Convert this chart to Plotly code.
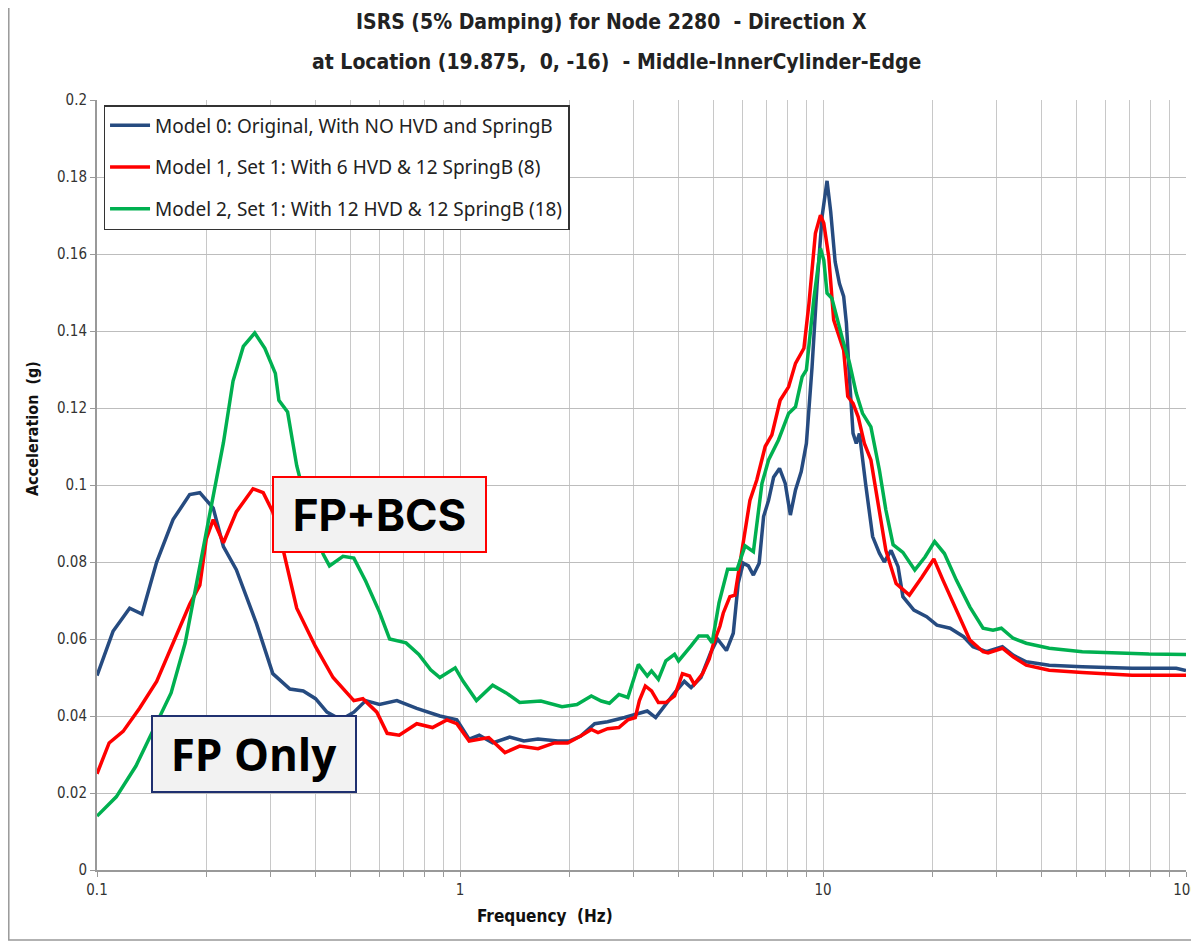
import plotly.graph_objects as go

# Model 0 (blue)
f0 = [0.1, 0.1107, 0.123, 0.133, 0.146, 0.162, 0.18, 0.192, 0.209, 0.223, 0.242, 0.275, 0.305, 0.34, 0.37,
      0.4, 0.43, 0.47, 0.51, 0.55, 0.6, 0.67, 0.76, 0.88, 0.98, 1.06, 1.13, 1.23, 1.37, 1.5, 1.64, 1.86, 2.0,
      2.15, 2.35, 2.55, 2.84, 3.08, 3.28, 3.46, 3.65, 3.9, 4.15, 4.33, 4.61, 4.9, 5.12, 5.42, 5.66, 5.84, 6.03,
      6.23, 6.43, 6.67, 6.86, 7.08, 7.31, 7.59, 7.87, 8.13, 8.4, 8.71, 9.0, 9.33, 9.63, 9.94, 10.26, 10.5,
      10.8, 11.1, 11.4, 11.6, 11.84, 12.1, 12.35, 12.6, 13.1, 13.7, 14.3, 14.75, 15.4, 16.1, 16.6, 17.8,
      19.3, 20.6, 22.4, 24.4, 25.9, 28.2, 31.2, 33.4, 36.3, 42, 51.8, 71, 94, 100]
a0 = [0.0505, 0.062, 0.068, 0.0665, 0.08, 0.091, 0.0975, 0.098, 0.094, 0.084, 0.078, 0.064, 0.051, 0.047, 0.0465,
      0.0445, 0.041, 0.039, 0.041, 0.044, 0.043, 0.044, 0.042, 0.04, 0.039, 0.034, 0.035, 0.033, 0.0345, 0.0335,
      0.034, 0.0335, 0.0335, 0.0348, 0.038, 0.0385, 0.0396, 0.0405, 0.0413, 0.0396, 0.0426, 0.046, 0.049, 0.0474,
      0.05, 0.0564, 0.06, 0.057, 0.0615, 0.0745, 0.0797, 0.079, 0.0766, 0.0797, 0.0918, 0.096, 0.102, 0.1043,
      0.1004, 0.0922, 0.0987, 0.1035, 0.1108, 0.1307, 0.152, 0.1697, 0.179, 0.171, 0.158, 0.1523, 0.149, 0.142,
      0.1272, 0.1134, 0.1108, 0.1134, 0.1004, 0.0866, 0.0823, 0.08, 0.083, 0.0788, 0.071, 0.0675, 0.0658, 0.0636,
      0.0628, 0.0606, 0.058, 0.0567, 0.058, 0.0558, 0.0541, 0.0532, 0.0528, 0.0524, 0.0524, 0.0518]

# Model 1 (red)
f1 = [0.1, 0.108, 0.118, 0.131, 0.146, 0.162, 0.18, 0.192, 0.2, 0.209, 0.223, 0.242, 0.269, 0.287, 0.305, 0.326,
      0.355, 0.4, 0.447, 0.51, 0.54, 0.59, 0.63, 0.68, 0.76, 0.84, 0.92, 0.98, 1.06, 1.2, 1.33, 1.46, 1.64, 1.82,
      1.98, 2.15, 2.3, 2.4, 2.55, 2.74, 2.9, 3.04, 3.12, 3.24, 3.37, 3.52, 3.69, 3.9, 4.1, 4.29, 4.42, 4.66, 4.86,
      5.0, 5.2, 5.31, 5.54, 5.72, 6.03, 6.29, 6.57, 6.93, 7.23, 7.62, 8.04, 8.4, 8.86, 9.15, 9.53, 9.84, 10.05,
      10.37, 10.7, 11.05, 11.4, 11.7, 12.1, 12.5, 13.0, 13.55, 14.15, 14.9, 15.9, 17.3, 18.7, 20.2, 21.4, 23.3,
      25.4, 27.6, 28.5, 31.2, 33.4, 36.3, 42, 51.8, 71, 100]
a1 = [0.025, 0.033, 0.036, 0.042, 0.049, 0.059, 0.069, 0.074, 0.086, 0.091, 0.085, 0.093, 0.099, 0.098, 0.093,
      0.083, 0.068, 0.058, 0.05, 0.044, 0.0445, 0.041, 0.0355, 0.035, 0.038, 0.037, 0.039, 0.038, 0.0335, 0.0344,
      0.0305, 0.0322, 0.0315, 0.033, 0.033, 0.0348, 0.0365, 0.0357, 0.0367, 0.037, 0.039, 0.0396, 0.044, 0.0478,
      0.0465, 0.0435, 0.0435, 0.0452, 0.051, 0.0504, 0.0482, 0.051, 0.0548, 0.059, 0.0633, 0.0667, 0.071, 0.0714,
      0.0857, 0.096, 0.1013, 0.11, 0.113, 0.122, 0.1255, 0.1316, 0.1355, 0.1472, 0.1654, 0.1701, 0.168, 0.1593,
      0.1429, 0.1385, 0.135, 0.123, 0.1212, 0.1177, 0.1108, 0.1065, 0.0952, 0.083, 0.0744, 0.0714, 0.076, 0.0808,
      0.0753, 0.0675, 0.0597, 0.0567, 0.0564, 0.0576, 0.0554, 0.0532, 0.0519, 0.0513, 0.0506, 0.0506]

# Model 2 (green)
f2 = [0.1, 0.113, 0.128, 0.146, 0.16, 0.175, 0.189, 0.205, 0.223, 0.237, 0.253, 0.272, 0.29, 0.31, 0.317, 0.335,
      0.355, 0.38, 0.42, 0.437, 0.476, 0.51, 0.55, 0.6, 0.64, 0.71, 0.77, 0.83, 0.88, 0.97, 1.02, 1.11, 1.23, 1.34,
      1.46, 1.67, 1.91, 2.1, 2.3, 2.45, 2.58, 2.74, 2.9, 3.1, 3.28, 3.37, 3.52, 3.69, 3.9, 4.0, 4.33, 4.55, 4.8,
      4.95, 5.17, 5.46, 5.8, 6.1, 6.43, 6.79, 7.08, 7.54, 8.04, 8.4, 8.76, 9.0, 9.43, 9.84, 10.05, 10.26, 10.58,
      10.9, 11.4, 11.84, 12.35, 12.85, 13.55, 14.3, 14.9, 15.6, 16.6, 17.9, 19.1, 20.3, 21.6, 23.3, 25.4, 27.6,
      29.4, 31, 33.4, 36.3, 42, 51.8, 64, 79, 100]
a2 = [0.014, 0.019, 0.027, 0.038, 0.046, 0.059, 0.075, 0.093, 0.111, 0.127, 0.136, 0.1395, 0.1355, 0.129, 0.122,
      0.119, 0.105, 0.094, 0.082, 0.079, 0.0815, 0.081, 0.075, 0.067, 0.06, 0.059, 0.056, 0.052, 0.05, 0.0525,
      0.049, 0.044, 0.048, 0.046, 0.0435, 0.0439, 0.0424, 0.043, 0.0452, 0.0439, 0.0433, 0.0456, 0.0448, 0.0534,
      0.0504, 0.0517, 0.0495, 0.0543, 0.056, 0.0543, 0.0582, 0.0608, 0.0608, 0.059, 0.0694, 0.0781, 0.0781,
      0.0842, 0.0827, 0.1004, 0.1065, 0.1117, 0.1186, 0.1203, 0.1281, 0.1299, 0.1481, 0.1615, 0.1584, 0.1498,
      0.1485, 0.1437, 0.1368, 0.1316, 0.1238, 0.1186, 0.1151, 0.1039, 0.0935, 0.0845, 0.0825, 0.0779, 0.0813,
      0.0853, 0.0822, 0.0753, 0.0683, 0.0628, 0.0623, 0.0628, 0.0602, 0.0589, 0.0576, 0.0567, 0.0563, 0.0561, 0.056]

names = ["Model 0: Original, With NO HVD and SpringB",
         "Model 1, Set 1: With 6 HVD & 12 SpringB (8)",
         "Model 2, Set 1: With 12 HVD & 12 SpringB (18)"]
colors = ["#264b80", "#ff0000", "#00b050"]

# log grid: every 1..9 x decade, labels only on decades
mults = [m for e in (-1, 0, 1) for m in range(1, 10)] + [1]
xtick_vals = [m * 10 ** e for e in (-1, 0, 1) for m in range(1, 10)] + [100]
xtick_text = [("%g" % v) if m == 1 else "" for v, m in zip(xtick_vals, mults)]
ytick_vals = [0, 0.02, 0.04, 0.06, 0.08, 0.1, 0.12, 0.14, 0.16, 0.18, 0.2]

fig = go.Figure()
for i, (f, a, n, c) in enumerate(zip([f0, f1, f2], [a0, a1, a2], names, colors)):
    fig.add_trace(go.Scatter(x=f, y=a, name=n, mode="lines", legendgroup="g%d" % i,
                             line=dict(color=c, width=3.5)))

tfont = "DejaVu Sans Condensed, Liberation Sans Narrow, sans-serif"
# the page body adds 8px, so the figure is drawn 8px smaller and margins shifted
fig.update_layout(
    width=1191, height=937,
    margin=dict(l=89, r=13, t=92, b=75, autoexpand=False),
    paper_bgcolor="white", plot_bgcolor="white",
    legend=dict(x=0.006, y=0.9935, xanchor="left", yanchor="top",
                bgcolor="white", bordercolor="#333", borderwidth=1.5,
                font=dict(family="Noto Sans", size=19, color="#222"),
                tracegroupgap=14, itemwidth=40),
    showlegend=True,
)
fig.update_xaxes(type="log", range=[-1, 2], tickvals=xtick_vals, ticktext=xtick_text, automargin=False,
                 showgrid=True, gridcolor="#c8c8c8", gridwidth=1.3,
                 showline=True, linecolor="#999", linewidth=2, ticks="outside", ticklen=5, tickcolor="#999",
                 tickfont=dict(family=tfont, size=15, color="#333"))
fig.update_yaxes(range=[0, 0.2], tickvals=ytick_vals, ticktext=["%g" % v for v in ytick_vals], automargin=False,
                 showgrid=True, gridcolor="#bdbdbd", gridwidth=1.3, zeroline=False,
                 showline=True, linecolor="#999", linewidth=2, ticks="outside", ticklen=5, tickcolor="#999",
                 tickfont=dict(family=tfont, size=15, color="#333"))

# titles
fig.add_annotation(text="<b>ISRS (5% Damping) for Node 2280  - Direction X</b>", xref="paper", yref="paper",
                   x=0.4729, y=1.1013, xanchor="center", yanchor="middle", showarrow=False,
                   font=dict(family=tfont, size=21, color="#222"))
fig.add_annotation(text="<b>at Location (19.875,  0, -16)  - Middle-InnerCylinder-Edge</b>", xref="paper",
                   yref="paper", x=0.4775, y=1.0494, xanchor="center", yanchor="middle", showarrow=False,
                   font=dict(family=tfont, size=21, color="#222"))
fig.add_annotation(text="<b>Acceleration  (g)</b>", xref="paper", yref="paper", textangle=-90,
                   x=-0.0597, y=0.574, xanchor="center", yanchor="middle", showarrow=False,
                   font=dict(family=tfont, size=16, color="#111"))
fig.add_annotation(text="<b>Frequency  (Hz)</b>", xref="paper", yref="paper",
                   x=0.411, y=-0.0597, xanchor="center", yanchor="middle", showarrow=False,
                   font=dict(family=tfont, size=17, color="#111"))

fig.add_annotation(text="<b>FP+BCS</b>", xref="paper", yref="paper", x=0.2594, y=0.4623,
                   xanchor="center", yanchor="middle",
                   showarrow=False, width=211, height=73, borderpad=0,
                   bgcolor="#f2f2f2", bordercolor="#ff0000", borderwidth=2,
                   font=dict(family="Inter", size=44, color="black"))
fig.add_annotation(text="<b>FP Only</b>", xref="paper", yref="paper", x=0.1446, y=0.1506,
                   xanchor="center", yanchor="middle",
                   showarrow=False, width=202, height=74, borderpad=0,
                   bgcolor="#f2f2f2", bordercolor="#1f3070", borderwidth=2,
                   font=dict(family="Open Sans", size=44, color="black", weight=800))

# outer chart frame
fig.add_shape(type="rect", xref="paper", yref="paper", x0=-0.081, x1=1.01, y0=-0.091, y1=1.123,
              line=dict(color="#999", width=1.5), layer="below")

fig.write_html("out.html")
